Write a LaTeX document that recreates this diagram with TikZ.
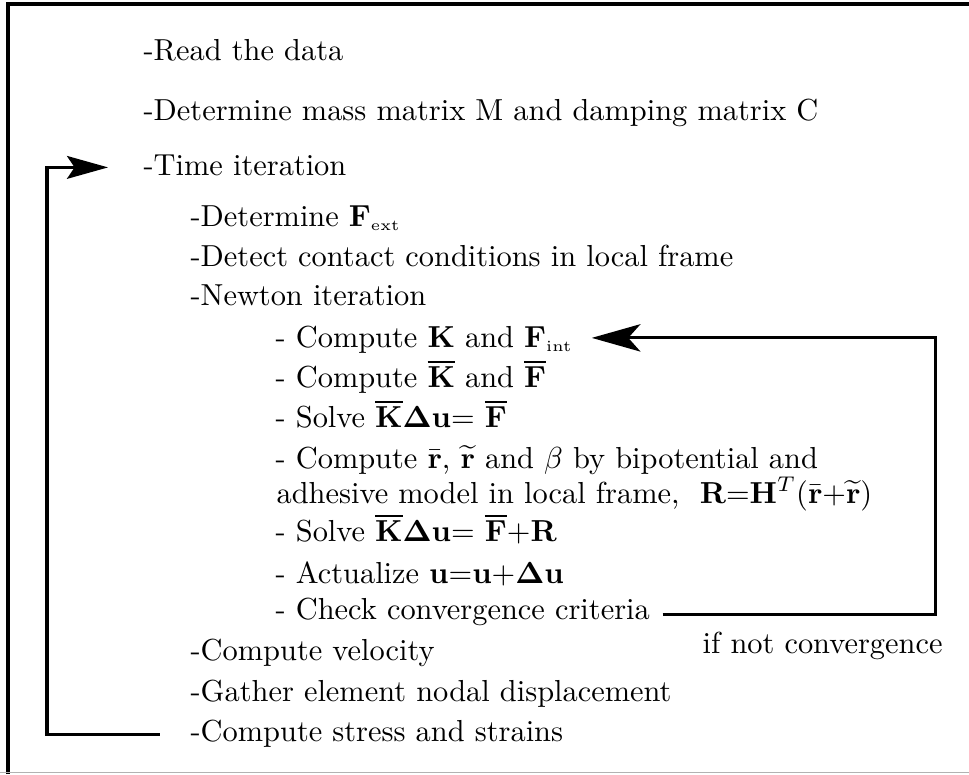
\documentclass[tikz,border=0pt]{standalone}
\usepackage{amsmath,tikz}
\usetikzlibrary{arrows.meta}

\tikzset{
  stepline/.style = {anchor=base west, inner sep=0pt},
  loopline/.style = {line width=1pt},
  bigtip/.style   = {-{Stealth[length=16pt, width=9pt, inset=4pt]}},
  smalltip/.style = {-{Stealth[length=13.5pt, width=7.5pt, inset=2.5pt]}}
}
\newcommand{\lowsub}[1]{_{\mathrm{\scriptscriptstyle #1}}}

\begin{document}
\begin{tikzpicture}[x=0.329pt, y=-0.329pt]
  \useasboundingbox (0,0) rectangle (969,774);
  % frame
  \draw[line width=1pt] (8,774) -- (8,4) -- (969,4);
  \draw[black!30, line width=0.5pt] (0,772.5) -- (969,772.5);

  % outer steps
  \foreach \n/\x/\y/\t in {
    read/143/61/{-Read the data},
    mass/143/121/{-Determine mass matrix M and damping matrix C},
    time/143/175/{-Time iteration}}{
      \node[stepline] (\n) at (\x,\y) {\t};
    }

  % time loop
  \foreach \n/\x/\y/\t in {
    fext/190/226/{-Determine $\mathbf{F}\lowsub{ext}$},
    detect/190/266/{-Detect contact conditions in local frame},
    newton/190/305/{-Newton iteration},
    velo/190/660/{-Compute velocity},
    gather/190/701/{-Gather element nodal displacement},
    stress/190/741/{-Compute stress and strains}}{
      \node[stepline] (\n) at (\x,\y) {\t};
    }

  % newton loop
  \foreach \n/\x/\y/\t in {
    cK/275/347/{- Compute $\mathbf{K}$ and $\mathbf{F}\lowsub{int}$},
    cKbar/275/387/{- Compute $\overline{\mathbf{K}}$ and $\overline{\mathbf{F}}$},
    solve/275/427/{- Solve $\overline{\mathbf{K}}\mathbf{\Delta u}$= $\overline{\mathbf{F}}$},
    cr/275/468/{- Compute $\bar{\mathbf{r}}$, $\widetilde{\mathbf{r}}$ and $\beta$ by bipotential and},
    adh/276/503/{adhesive model in local frame, \ $\mathbf{R}$=$\mathbf{H}^{T}$($\bar{\mathbf{r}}$+$\widetilde{\mathbf{r}}$)},
    solveR/275/541/{- Solve $\overline{\mathbf{K}}\mathbf{\Delta u}$= $\overline{\mathbf{F}}$+$\mathbf{R}$},
    act/275/583/{- Actualize $\mathbf{u}$=$\mathbf{u}$+$\mathbf{\Delta u}$},
    check/275/619/{- Check convergence criteria}}{
      \node[stepline] (\n) at (\x,\y) {\t};
    }

  \node[stepline] (ifnot) at (702,653) {if not convergence};

  % connectors
  \coordinate (rside) at (935,0);
  \coordinate (lside) at (47,0);
  \coordinate (kin) at ([shift={(6pt,3pt)}]cK.base east);
  \coordinate (tin) at ([shift={(-11.5pt,2.5pt)}]time.base west);

  \draw[loopline, bigtip] ([shift={(4pt,1.5pt)}]check.base east) -| (rside |- kin) -- (kin);
  \draw[loopline, smalltip] ([shift={(-10pt,2pt)}]stress.base west) -| (lside |- tin) -- (tin);
\end{tikzpicture}
\end{document}
